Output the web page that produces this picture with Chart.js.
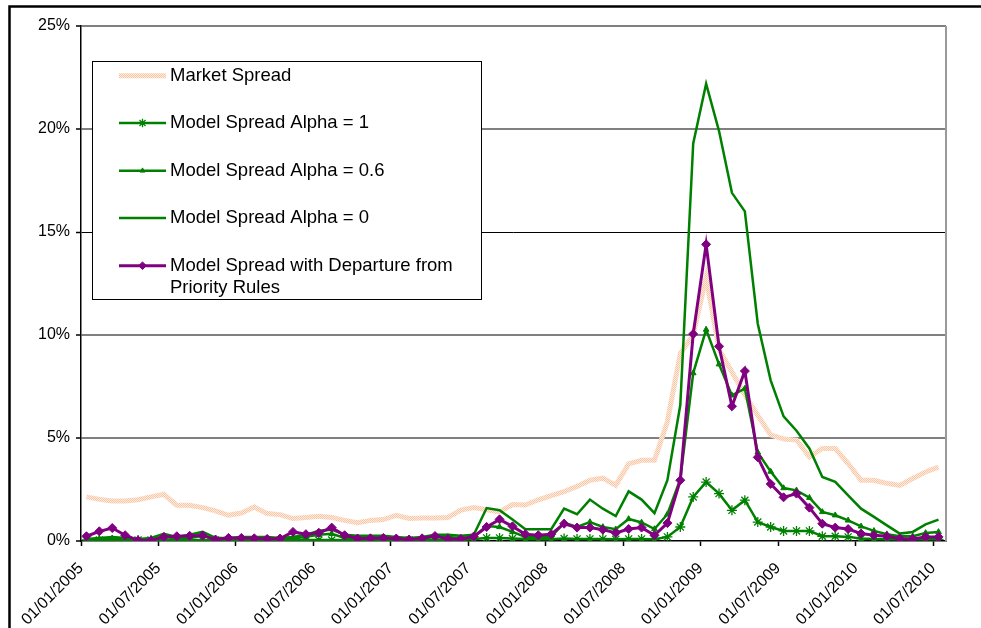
<!DOCTYPE html>
<html><head><meta charset="utf-8">
<script src="https://cdn.jsdelivr.net/npm/chart.js@4.4.1/dist/chart.umd.min.js"></script>
<style>html,body{margin:0;padding:0;background:#fff}#wrap{width:981px;height:628px;position:relative}</style>
</head><body><div id="wrap"><canvas id="c" width="981" height="628"></canvas></div>
<script>
// x-axis tick labels (every 6 months)
const tickLabels = ['01/01/2005','01/07/2005','01/01/2006','01/07/2006','01/01/2007','01/07/2007',
  '01/01/2008','01/07/2008','01/01/2009','01/07/2009','01/01/2010','01/07/2010'];
const monthsPerTick = 6;
const obsOffset = 0.42; // observations fall part-way through each month
// monthly series, Jan 2005 .. Jul 2010 (percent)
const marketSpread = [2.14,2.02,1.94,1.94,2.0,2.14,2.27,1.73,1.73,1.62,1.46,1.25,1.36,1.65,1.33,1.28,1.09,1.14,1.2,1.14,
  1.0,0.89,1.0,1.04,1.25,1.09,1.12,1.12,1.14,1.5,1.62,1.52,1.41,1.77,1.75,2.0,2.2,2.4,2.65,2.95,
  3.05,2.7,3.74,3.92,3.92,5.8,9.1,10.0,12.8,9.3,8.2,7.1,6.1,5.15,4.95,4.9,4.08,4.49,4.49,3.76,
  2.95,2.95,2.8,2.7,3.03,3.35,3.59];
const alpha1 = [0.05,0.05,0.05,0.05,0.05,0.05,0.05,0.05,0.05,0.05,0.05,0.05,0.05,0.05,0.05,0.05,0.05,0.05,0.05,0.05,
  0.05,0.05,0.05,0.05,0.05,0.05,0.05,0.05,0.05,0.05,0.1,0.15,0.15,0.12,0.1,0.08,0.08,0.12,0.1,0.1,
  0.1,0.08,0.1,0.1,0.08,0.2,0.68,2.14,2.86,2.3,1.49,1.98,0.92,0.68,0.49,0.49,0.49,0.23,0.23,0.2,
  0.12,0.1,0.08,0.08,0.08,0.08,0.08];
const alpha06 = [0.05,0.1,0.12,0.1,0.05,0.08,0.2,0.12,0.15,0.25,0.08,0.1,0.12,0.12,0.12,0.1,0.12,0.2,0.3,0.35,
  0.15,0.15,0.15,0.15,0.12,0.1,0.12,0.2,0.2,0.15,0.2,0.73,0.68,0.44,0.2,0.2,0.2,0.89,0.68,0.92,
  0.68,0.57,1.07,0.9,0.58,1.3,3.0,8.15,10.26,8.58,7.07,7.4,4.3,3.37,2.57,2.46,2.1,1.41,1.25,1.0,
  0.71,0.49,0.33,0.23,0.23,0.39,0.44];
const alpha0 = [0.1,0.15,0.2,0.15,0.1,0.15,0.35,0.2,0.3,0.45,0.15,0.15,0.2,0.2,0.2,0.15,0.2,0.3,0.5,0.55,
  0.3,0.25,0.25,0.25,0.2,0.15,0.2,0.3,0.3,0.25,0.3,1.6,1.49,1.04,0.57,0.57,0.57,1.57,1.3,2.01,
  1.57,1.21,2.41,2.01,1.35,2.95,6.6,19.3,22.2,19.9,16.9,16.0,10.55,7.8,6.05,5.35,4.49,3.11,2.87,2.22,
  1.57,1.17,0.76,0.36,0.44,0.81,1.04];
const departure = [0.23,0.47,0.63,0.28,0.03,0.03,0.2,0.23,0.25,0.27,0.07,0.15,0.15,0.13,0.1,0.12,0.44,0.33,0.4,0.65,
  0.28,0.12,0.13,0.15,0.12,0.07,0.13,0.24,0.1,0.1,0.22,0.68,1.05,0.71,0.33,0.28,0.33,0.84,0.65,0.65,
  0.55,0.39,0.58,0.65,0.28,0.87,2.95,10.05,14.4,9.45,6.54,8.25,4.06,2.77,2.12,2.3,1.62,0.84,0.65,0.58,
  0.36,0.28,0.23,0.12,0.1,0.2,0.2];

const FONT = '"Liberation Sans", Arial, Helvetica, sans-serif';
const GREEN = '#008000', PURPLE = '#800080';
const toPts = arr => arr.map((v, i) => ({x: i + obsOffset, y: v}));

function makePattern() {
  const p = document.createElement('canvas'); p.width = 2; p.height = 2;
  const g = p.getContext('2d');
  g.fillStyle = '#FBEDE2'; g.fillRect(0, 0, 2, 2);
  g.fillStyle = '#FCC6A4'; g.fillRect(0, 0, 1, 1); g.fillRect(1, 1, 1, 1);
  return g.createPattern(p, 'repeat');
}
const marketPattern = makePattern();

const datasets = [
  {label: 'Market Spread', data: toPts(marketSpread), borderColor: marketPattern, borderWidth: 5,
   pointRadius: 0, order: 5},
  {label: 'Model Spread Alpha = 1', data: toPts(alpha1), borderColor: GREEN, borderWidth: 2.5,
   pointStyle: 'star', pointRadius: 5, pointBorderColor: GREEN, pointBackgroundColor: GREEN, pointBorderWidth: 1.3, order: 4},
  {label: 'Model Spread Alpha = 0.6', data: toPts(alpha06), borderColor: GREEN, borderWidth: 2.5,
   pointStyle: 'triangle', pointRadius: 3.3, pointBorderColor: GREEN, pointBackgroundColor: GREEN, pointBorderWidth: 1, order: 3},
  {label: 'Model Spread Alpha = 0', data: toPts(alpha0), borderColor: GREEN, borderWidth: 2.5,
   pointRadius: 0, order: 2},
  {label: 'Model Spread with Departure from Priority Rules', data: toPts(departure), borderColor: PURPLE, borderWidth: 3,
   pointStyle: 'rectRot', pointRadius: 4.5, pointBorderColor: PURPLE, pointBackgroundColor: PURPLE, pointBorderWidth: 1, order: 1}
];

const framePlugin = {
  id: 'frame',
  beforeDraw(chart) {
    const ctx = chart.ctx; ctx.save();
    ctx.fillStyle = '#fff'; ctx.fillRect(0, 0, chart.width, chart.height);
    ctx.strokeStyle = '#000'; ctx.lineWidth = 2.5;
    ctx.beginPath(); ctx.moveTo(9.5, 628); ctx.lineTo(9.5, 6.5); ctx.lineTo(981, 6.5); ctx.stroke();
    ctx.restore();
  },
  beforeDatasetsDraw(chart) {
    const a = chart.chartArea, ctx = chart.ctx; ctx.save();
    ctx.strokeStyle = '#9a9a9a'; ctx.lineWidth = 2;
    ctx.beginPath(); ctx.moveTo(a.right, a.top); ctx.lineTo(a.right, a.bottom); ctx.stroke();
    ctx.restore();
  }
};

const legendPlugin = {
  id: 'boxLegend',
  afterDraw(chart) {
    const ctx = chart.ctx; ctx.save();
    const bx = 92.5, by = 61.5, bw = 389, bh = 238;
    ctx.fillStyle = '#fff'; ctx.fillRect(bx, by, bw, bh);
    ctx.strokeStyle = '#000'; ctx.lineWidth = 1; ctx.strokeRect(bx, by, bw, bh);
    const rows = [75.7, 123, 170.7, 218, 265.7];
    const x0 = 119, x1 = 166, tx = 170, maxW = bx + bw - tx - 6;
    ctx.font = '18.5px ' + FONT; ctx.textBaseline = 'middle';
    chart.data.datasets.forEach((ds, k) => {
      const y = rows[k];
      ctx.strokeStyle = ds.borderColor; ctx.lineWidth = ds.borderWidth;
      ctx.beginPath(); ctx.moveTo(x0, y); ctx.lineTo(x1, y); ctx.stroke();
      if (ds.pointRadius > 0) {
        ctx.fillStyle = ds.pointBackgroundColor; ctx.strokeStyle = ds.pointBorderColor;
        ctx.lineWidth = ds.pointBorderWidth;
        Chart.helpers.drawPoint(ctx, {pointStyle: ds.pointStyle, radius: ds.pointRadius * 0.85, rotation: 0,
          borderWidth: ds.pointBorderWidth}, (x0 + x1) / 2, y);
      }
      // wrap label
      const words = ds.label.split(' '); const lines = []; let cur = '';
      words.forEach(w => { const t = cur ? cur + ' ' + w : w;
        if (ctx.measureText(t).width > maxW && cur) { lines.push(cur); cur = w; } else cur = t; });
      lines.push(cur);
      ctx.fillStyle = '#000';
      lines.forEach((l, j) => ctx.fillText(l, tx, y + j * 22.6));
    });
    ctx.restore();
  }
};

new Chart(document.getElementById('c'), {
  type: 'line',
  data: {datasets},
  options: {
    responsive: false, animation: false,
    layout: {padding: {top: 26, right: 35, left: 0, bottom: 0}},
    plugins: {legend: {display: false}, tooltip: {enabled: false}},
    elements: {line: {tension: 0}},
    scales: {
      x: {
        type: 'linear', min: 0, max: 67,
        afterBuildTicks: s => { s.ticks = tickLabels.map((_, k) => ({value: k * monthsPerTick})); },
        afterFit: s => { s.height = 87; },
        ticks: {callback: (v, i) => tickLabels[i], minRotation: 45, maxRotation: 45, autoSkip: false,
          color: '#000', font: {family: FONT, size: 16}, padding: 13},
        grid: {drawOnChartArea: false, tickLength: 5, tickColor: '#000', tickWidth: 1.5},
        border: {color: '#000', width: 1.5}
      },
      y: {
        min: 0, max: 25,
        afterFit: s => { s.width = 81; },
        ticks: {stepSize: 5, callback: v => v + '%', color: '#000', font: {family: FONT, size: 16}, padding: 6},
        grid: {
          color: c => c.tick && c.tick.value === 0 ? 'rgba(0,0,0,0)' : (c.tick && c.tick.value === 15 ? '#000' : '#808080'),
          lineWidth: c => c.tick && c.tick.value === 15 ? 1 : 2,
          tickLength: 5, tickColor: '#000', tickWidth: 1.5
        },
        border: {color: '#000', width: 1.5}
      }
    }
  },
  plugins: [framePlugin, legendPlugin]
});
</script>
</body></html>
